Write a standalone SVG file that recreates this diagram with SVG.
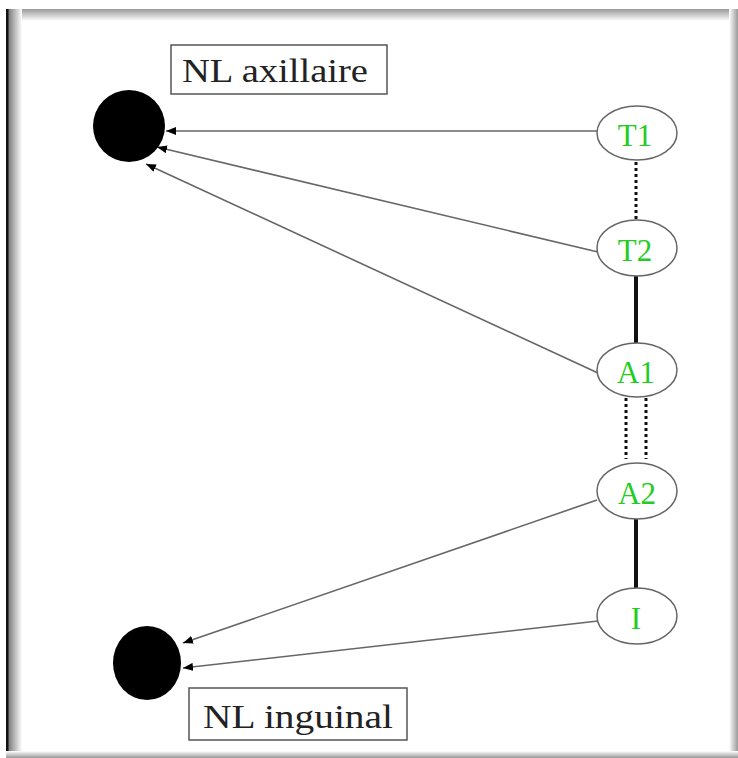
<svg xmlns="http://www.w3.org/2000/svg" width="738" height="758" viewBox="0 0 738 758">
  <style>
    .node ellipse { fill: #ffffff; stroke: #666666; stroke-width: 1.5; }
    .node text { font-size: 31px; fill: #22cc22; text-anchor: middle; }
    .hub { fill: #000000; }
    .label rect { fill: #ffffff; stroke: #555555; stroke-width: 1.5; }
    .label text { font-size: 33px; fill: #222222; }
    .edge { stroke: #666666; stroke-width: 1.6; fill: none; marker-end: url(#arrow); }
    .solid { stroke: #111111; stroke-width: 4; }
    .dotted { stroke: #111111; stroke-width: 3; stroke-dasharray: 3 3; }
  </style>
  <defs>
    <marker id="arrow" viewBox="0 0 10 8" refX="10" refY="4" markerWidth="10" markerHeight="8" markerUnits="userSpaceOnUse" orient="auto">
      <path d="M0,0 L10,4 L0,8 Z" fill="#000000"/>
    </marker>
    <linearGradient id="gLeft" x1="0" y1="0" x2="1" y2="0">
      <stop offset="0" stop-color="#777777"/>
      <stop offset="1" stop-color="#ffffff"/>
    </linearGradient>
    <linearGradient id="gTop" x1="0" y1="0" x2="0" y2="1">
      <stop offset="0" stop-color="#999999"/>
      <stop offset="1" stop-color="#ffffff"/>
    </linearGradient>
    <linearGradient id="gRight" x1="0" y1="0" x2="1" y2="0">
      <stop offset="0" stop-color="#ffffff"/>
      <stop offset="1" stop-color="#999999"/>
    </linearGradient>
    <linearGradient id="gBottom" x1="0" y1="0" x2="0" y2="1">
      <stop offset="0" stop-color="#ffffff"/>
      <stop offset="1" stop-color="#999999"/>
    </linearGradient>
  </defs>

  <!-- page background and shaded frame -->
  <rect x="0" y="0" width="738" height="758" fill="#ffffff"/>
  <rect x="6" y="9" width="732" height="12" fill="url(#gTop)"/>
  <rect x="8" y="9" width="14" height="749" fill="url(#gLeft)"/>
  <rect x="6" y="9" width="2.5" height="749" fill="#111111"/>
  <rect x="729" y="9" width="9" height="749" fill="url(#gRight)"/>
  <rect x="6" y="751" width="732" height="7" fill="url(#gBottom)"/>

  <!-- connectors -->
  <g id="connectors">
    <line class="dotted" x1="636" y1="162" x2="636" y2="219"/>
    <line class="solid" x1="636" y1="276" x2="636" y2="343"/>
    <line class="dotted" x1="626" y1="398" x2="626" y2="459"/>
    <line class="dotted" x1="646" y1="398" x2="646" y2="459"/>
    <line class="solid" x1="636" y1="519" x2="636" y2="589"/>
    <line class="edge" x1="597" y1="131" x2="166" y2="131"/>
    <line class="edge" x1="598" y1="252" x2="157" y2="147"/>
    <line class="edge" x1="598" y1="373" x2="146" y2="164"/>
    <line class="edge" x1="597" y1="500" x2="183" y2="643"/>
    <line class="edge" x1="598" y1="621" x2="183" y2="668"/>
  </g>

  <!-- lymph node hubs -->
  <g id="hub-axillaire">
    <ellipse class="hub" cx="129" cy="126" rx="36" ry="36"/>
  </g>
  <g id="hub-inguinal">
    <ellipse class="hub" cx="147" cy="663" rx="34" ry="37"/>
  </g>

  <!-- labels -->
  <g id="label-axillaire" class="label" font-family="Liberation Serif, Times New Roman, serif">
    <rect x="171" y="45" width="216" height="49"/>
    <text x="182" y="82" textLength="186" lengthAdjust="spacingAndGlyphs">NL axillaire</text>
  </g>
  <g id="label-inguinal" class="label" font-family="Liberation Serif, Times New Roman, serif">
    <rect x="189" y="688" width="218" height="52"/>
    <text x="203" y="728" textLength="190" lengthAdjust="spacingAndGlyphs">NL inguinal</text>
  </g>

  <!-- segment nodes -->
  <g id="T1" class="node" font-family="Liberation Serif, Times New Roman, serif">
    <ellipse cx="637" cy="133" rx="40" ry="27"/>
    <text x="635" y="146">T1</text>
  </g>
  <g id="T2" class="node" font-family="Liberation Serif, Times New Roman, serif">
    <ellipse cx="637" cy="248" rx="40" ry="28"/>
    <text x="635" y="261">T2</text>
  </g>
  <g id="A1" class="node" font-family="Liberation Serif, Times New Roman, serif">
    <ellipse cx="637" cy="370" rx="40" ry="27"/>
    <text x="636" y="383">A1</text>
  </g>
  <g id="A2" class="node" font-family="Liberation Serif, Times New Roman, serif">
    <ellipse cx="637" cy="491" rx="40" ry="28"/>
    <text x="637" y="504">A2</text>
  </g>
  <g id="I" class="node" font-family="Liberation Serif, Times New Roman, serif">
    <ellipse cx="637" cy="616" rx="40" ry="28"/>
    <text x="636" y="629">I</text>
  </g>
</svg>
